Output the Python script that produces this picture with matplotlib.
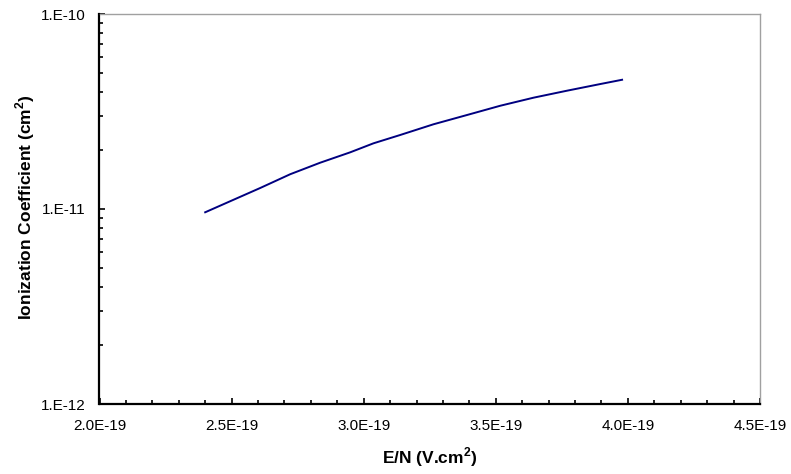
import matplotlib
matplotlib.use("Agg")
import matplotlib.pyplot as plt
from matplotlib.ticker import FixedLocator, LogLocator, NullFormatter, MultipleLocator

# Data
en_values = [2.400e-19, 2.494e-19, 2.608e-19, 2.722e-19, 2.835e-19, 2.949e-19, 3.037e-19,
             3.138e-19, 3.264e-19, 3.391e-19, 3.517e-19, 3.643e-19, 3.770e-19, 3.896e-19,
             3.978e-19]
ion_coeff = [9.62e-12, 1.095e-11, 1.281e-11, 1.508e-11, 1.727e-11, 1.953e-11, 2.172e-11,
             2.396e-11, 2.719e-11, 3.034e-11, 3.385e-11, 3.723e-11, 4.044e-11, 4.375e-11,
             4.60e-11]
x_ticks = [2.0e-19, 2.5e-19, 3.0e-19, 3.5e-19, 4.0e-19, 4.5e-19]
x_tick_labels = ["2.0E-19", "2.5E-19", "3.0E-19", "3.5E-19", "4.0E-19", "4.5E-19"]
y_ticks = [1e-12, 1e-11, 1e-10]
y_tick_labels = ["1.E-12", "1.E-11", "1.E-10"]

plt.rcParams['font.family'] = ['Liberation Sans', 'DejaVu Sans']
plt.rcParams['mathtext.fontset'] = 'custom'
plt.rcParams['mathtext.rm'] = 'Liberation Sans'
plt.rcParams['mathtext.bf'] = 'Liberation Sans:bold'

fig = plt.figure(figsize=(7.91, 4.74), dpi=100)
ax = fig.add_axes([99.5/791, 1 - 404/474, (760 - 99.5)/791, (404 - 14)/474])

ax.plot(en_values, ion_coeff, color='#000080', lw=1.4)

ax.set_yscale('log')
ax.set_xlim(x_ticks[0], x_ticks[-1])
ax.set_ylim(y_ticks[0], y_ticks[-1])

ax.xaxis.set_major_locator(FixedLocator(x_ticks))
ax.set_xticklabels(x_tick_labels)
ax.xaxis.set_minor_locator(MultipleLocator(0.1e-19))
ax.yaxis.set_major_locator(FixedLocator(y_ticks))
ax.set_yticklabels(y_tick_labels)
ax.yaxis.set_minor_locator(LogLocator(base=10, subs=range(2, 10)))
ax.yaxis.set_minor_formatter(NullFormatter())

ax.tick_params(axis='both', which='major', direction='in', length=4.5, width=1.2,
               labelsize=11, color='black')
ax.tick_params(axis='both', which='minor', direction='in', length=3, width=1.2, color='black')
ax.tick_params(axis='x', which='major', pad=11)
ax.tick_params(axis='y', which='major', pad=10)

for side in ['left', 'bottom']:
    ax.spines[side].set_color('black')
    ax.spines[side].set_linewidth(1.6)
for side in ['top', 'right']:
    ax.spines[side].set_color('#A0A0A0')
    ax.spines[side].set_linewidth(1.0)

ax.set_xlabel('E/N (V.cm$^\\mathbf{2}$)', fontsize=12.5, fontweight='bold', labelpad=9)
ax.set_ylabel('Ionization Coefficient (cm$^\\mathbf{2}$)', fontsize=12.5, fontweight='bold')
ax.yaxis.set_label_coords(25/791, (474 - 207)/474, transform=fig.transFigure)
ax.yaxis.label.set_verticalalignment('center')

fig.savefig('out.png', dpi=100)
